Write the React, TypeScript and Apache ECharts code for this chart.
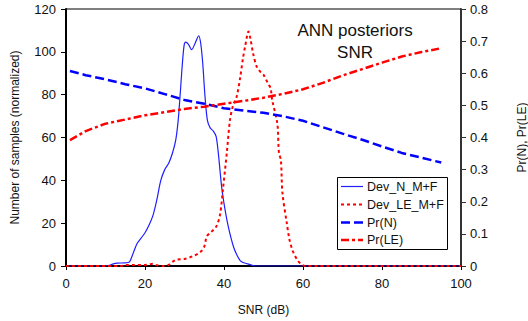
import React, { useEffect, useRef } from "react";
import * as echarts from "echarts";

const devNX = [0, 10, 11, 12, 13, 15, 16, 17, 18, 19, 20, 21, 22, 23, 24, 25, 26, 27, 27.8, 28.4, 28.9, 29.4, 29.9, 30.3, 31, 31.8, 32.8, 33.6, 34.1, 34.6, 35.2, 35.8, 36.5, 37.3, 38, 38.6, 39.4, 40.2, 41.1, 42.4, 43.3, 44.1, 45, 46, 47, 48, 100];
const devNY = [0, 0, 0.3, 1.0, 1.3, 1.5, 1.8, 6, 10.5, 13, 15.5, 19, 23.5, 31, 40, 45, 48, 53, 59, 68, 80, 93, 103, 104.5, 103.5, 101, 104.5, 107.5, 104, 95, 79, 68, 64.5, 63, 60.5, 52, 37, 27, 18.3, 9, 5, 2.5, 1.5, 1.0, 0.4, 0, 0];

const devLEX = [0, 14, 15, 17, 20, 22, 23, 25, 26, 27, 28, 30, 32, 34, 35, 35.6, 36.5, 38, 39, 39.8, 40.7, 41.5, 42.3, 43.2, 44.1, 44.8, 45.4, 46.2, 46.7, 47.4, 48.3, 49.5, 50.1, 51.2, 51.8, 52.2, 53.5, 53.9, 54.4, 54.8, 55.9, 56.5, 57.3, 58.5, 59.8, 61, 100];
const devLEY = [0, 0, 0.5, 0.5, 0.5, 1, 0.3, 0, 0.5, 2, 3, 3.3, 4.5, 6.5, 9, 13.7, 15.5, 18.3, 24, 37, 52.6, 68, 75, 79, 88, 97, 103, 109.5, 106, 99, 93, 90, 89, 85, 83, 77.5, 66.5, 53, 49.5, 34, 20, 13, 7.5, 3, 0.5, 0, 0];

const prX = [1, 5, 10, 15, 20, 25, 30, 35, 40, 45, 50, 55, 60, 65, 70, 75, 80, 85, 90, 95];
const prN = [0.607, 0.594, 0.581, 0.566, 0.553, 0.535, 0.517, 0.505, 0.491, 0.484, 0.477, 0.466, 0.452, 0.432, 0.412, 0.393, 0.372, 0.352, 0.337, 0.322];
const prLE = [0.392, 0.42, 0.443, 0.456, 0.469, 0.479, 0.489, 0.496, 0.505, 0.514, 0.524, 0.536, 0.55, 0.57, 0.593, 0.613, 0.633, 0.652, 0.666, 0.678];

const xTicks = { min: 0, max: 100, interval: 20 };
const leftTicks = { min: 0, max: 120, interval: 20 };
const rightTicks = { min: 0, max: 0.8, interval: 0.1 };

const legendNames = ["Dev_N_M+F", "Dev_LE_M+F", "Pr(N)", "Pr(LE)"];

const zip = (xs: number[], ys: number[]) => xs.map((x, i) => [x, ys[i]]);

const FONT = "Liberation Sans, Arial, sans-serif";

const seriesStyles = [
  { color: "#1f1fff", width: 1.2, dash: null as number[] | null },
  { color: "#ff0000", width: 2, dash: [3, 3] },
  { color: "#0000ff", width: 2.5, dash: [9, 4] },
  { color: "#ff0000", width: 2.5, dash: [8, 3, 3, 3] },
];

export default function App() {
  const ref = useRef<HTMLDivElement>(null);
  useEffect(() => {
    if (!ref.current) return;
    const chart = echarts.init(ref.current, null, { renderer: "svg" });
    const labelStyle = { fontFamily: FONT, fontSize: 13, color: "#111" };

    const legendBox = { x: 337, y: 177, w: 110, h: 72 };
    const legendRows = [186.5, 204.5, 222.5, 240];
    const legendGraphics: any[] = [
      { type: "rect", z: 100, shape: { x: legendBox.x + 0.5, y: legendBox.y + 0.5, width: legendBox.w, height: legendBox.h }, style: { fill: "#fff", stroke: "#000", lineWidth: 1 } },
    ];
    legendNames.forEach((name, i) => {
      const s = seriesStyles[i];
      legendGraphics.push({
        type: "line",
        z: 101,
        shape: { x1: 341, y1: legendRows[i], x2: 363, y2: legendRows[i] },
        style: { stroke: s.color, lineWidth: s.width, lineDash: s.dash || undefined },
      });
      legendGraphics.push({
        type: "text",
        z: 101,
        x: 367,
        y: legendRows[i],
        style: { text: name, font: `12.5px ${FONT}`, fill: "#111", textAlign: "left", textVerticalAlign: "middle" },
      });
    });

    const mk = (i: number, name: string, data: number[][], yAxisIndex: number, smooth: number | boolean) => ({
      name,
      type: "line",
      yAxisIndex,
      data,
      showSymbol: false,
      symbol: "none",
      smooth,
      lineStyle: { color: seriesStyles[i].color, width: seriesStyles[i].width, type: seriesStyles[i].dash || "solid" },
      itemStyle: { color: seriesStyles[i].color },
      z: 3 + i,
    });

    chart.setOption({
      animation: false,
      textStyle: { fontFamily: FONT },
      grid: { left: 66, right: 67, top: 9, bottom: 55, show: true, borderColor: "#000", borderWidth: 1, backgroundColor: "transparent", outerBoundsMode: "none", containLabel: false },
      xAxis: {
        type: "value",
        ...xTicks,
        name: "SNR (dB)",
        nameLocation: "middle",
        nameGap: 38,
        nameTextStyle: { fontFamily: FONT, fontSize: 12, color: "#111" },
        axisLine: { show: true, lineStyle: { color: "#000", width: 2 } },
        axisTick: { show: true, length: 4, lineStyle: { color: "#000", width: 1 } },
        axisLabel: { ...labelStyle, margin: 11 },
        splitLine: { show: false },
      },
      yAxis: [
        {
          type: "value",
          ...leftTicks,
          name: "Number of samples (normalized)",
          nameLocation: "middle",
          nameGap: 45,
          nameTextStyle: { fontFamily: FONT, fontSize: 12, color: "#111" },
          axisLine: { show: true, lineStyle: { color: "#000", width: 2 } },
          axisTick: { show: true, length: 5, lineStyle: { color: "#000", width: 1 } },
          axisLabel: { ...labelStyle, margin: 10 },
          splitLine: { show: false },
        },
        {
          type: "value",
          ...rightTicks,
          position: "right",
          name: "Pr(N), Pr(LE)",
          nameLocation: "middle",
          nameGap: 55,
          nameRotate: 90,
          nameTextStyle: { fontFamily: FONT, fontSize: 12, color: "#111" },
          axisLine: { show: true, lineStyle: { color: "#333", width: 2 } },
          axisTick: { show: true, length: 5, lineStyle: { color: "#333", width: 1 } },
          axisLabel: { ...labelStyle, margin: 9, formatter: (v: number) => (Math.round(v * 10) / 10).toString() },
          splitLine: { show: false },
        },
      ],
      graphic: [
        { type: "text", x: 355, y: 30, style: { text: "ANN posteriors", font: `17px ${FONT}`, fill: "#111", textAlign: "center", textVerticalAlign: "middle" } },
        { type: "text", x: 355, y: 52, style: { text: "SNR", font: `17px ${FONT}`, fill: "#111", textAlign: "center", textVerticalAlign: "middle" } },
        ...legendGraphics,
      ],
      series: [
        mk(0, legendNames[0], zip(devNX, devNY), 0, 0.3),
        mk(1, legendNames[1], zip(devLEX, devLEY), 0, 0.3),
        mk(2, legendNames[2], zip(prX, prN), 1, false),
        mk(3, legendNames[3], zip(prX, prLE), 1, false),
      ],
    });
    return () => chart.dispose();
  }, []);
  return <div ref={ref} style={{ width: 528, height: 321, position: "absolute", left: 0, top: 0, background: "#fff" }} />;
}
